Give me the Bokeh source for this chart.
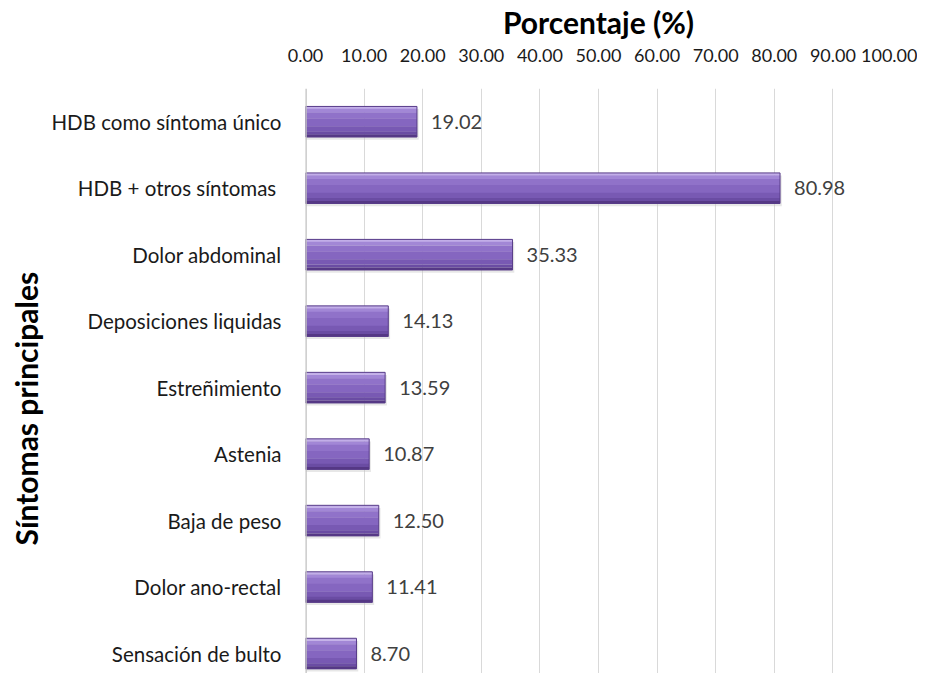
from bokeh.plotting import figure
from bokeh.models import Range1d, FixedTicker, NumeralTickFormatter, Span, ColumnDataSource, Title
from bokeh.core.properties import value
from bokeh.embed import file_html
from bokeh.resources import INLINE

categories = ["HDB como síntoma único", "HDB +  otros síntomas", "Dolor abdominal",
              "Deposiciones liquidas", "Estreñimiento", "Astenia", "Baja de peso",
              "Dolor ano-rectal", "Sensación de bulto"]
values = [19.02, 80.98, 35.33, 14.13, 13.59, 10.87, 12.50, 11.41, 8.70]
x_ticks = [0, 10, 20, 30, 40, 50, 60, 70, 80, 90, 100]
x_title = "Porcentaje (%)"
y_title = "Síntomas principales"

FONT = "Lato"
idx = list(range(len(categories)))

p = figure(width=917, height=673, output_backend="svg", toolbar_location=None,
           x_range=Range1d(0, 100), y_range=Range1d(8.3, -0.5),
           x_axis_location="above",
           min_border_left=300, min_border_right=26, min_border_top=88, min_border_bottom=0)
p.outline_line_color = None
p.background_fill_color = "white"

# axes
xa = p.xaxis[0]
xa.ticker = FixedTicker(ticks=x_ticks)
xa.formatter = NumeralTickFormatter(format="0.00")
xa.axis_line_color = None
xa.major_tick_line_color = None
xa.minor_tick_line_color = None
xa.major_label_text_font = FONT
xa.major_label_text_font_size = "18px"
xa.major_label_text_color = "#1a1a1a"
xa.major_label_standoff = 21
xa.axis_label = x_title
xa.axis_label_text_font = FONT
xa.axis_label_text_font_style = "bold"
xa.axis_label_text_font_size = "30px"
xa.axis_label_text_color = "#000000"
xa.axis_label_standoff = 6

ya = p.yaxis[0]
ya.ticker = FixedTicker(ticks=idx)
ya.major_label_overrides = {i: c for i, c in zip(idx, categories)}
ya.axis_line_color = None
ya.major_tick_line_color = None
ya.minor_tick_line_color = None
ya.major_label_text_font = FONT
ya.major_label_text_font_size = "20.5px"
ya.major_label_text_color = "#1a1a1a"
ya.major_label_standoff = 18

# y-axis title, shifted lower than the frame centre as in the reference
p.add_layout(Title(text=y_title, align="left", offset=128, standoff=10,
                   text_font=FONT, text_font_style="bold", text_font_size="30px",
                   text_color="#000000"), "left")

p.xgrid.ticker = FixedTicker(ticks=x_ticks)
p.xgrid.grid_line_color = "#d9d9d9"
p.xgrid.grid_line_width = 1
p.ygrid.grid_line_color = None

p.add_layout(Span(location=0, dimension="height", line_color="#c0c0c0", line_width=2.5))

h = 0.46
# soft shadow
p.hbar(y=[i + 0.04 for i in idx], left=0, right=[v + 0.3 for v in values], height=h,
       fill_color="#c4c4c4", fill_alpha=0.4, line_color=None)

strips = [(0.00, 0.08, "#c2aee8"), (0.08, 0.20, "#a287d6"), (0.20, 0.40, "#9072c9"),
          (0.40, 0.65, "#8566c0"), (0.65, 0.82, "#7859b3"), (0.82, 0.92, "#6a4ca3"),
          (0.92, 1.00, "#553885")]
for a, b, col in strips:
    p.hbar(y=[i - h / 2 + (a + b) / 2 * h for i in idx], left=0, right=values,
           height=(b - a) * h * 1.04, fill_color=col, line_color=None)
p.hbar(y=idx, left=0, right=values, height=h, fill_color=None, line_color="#573b88", line_width=1)

src = ColumnDataSource(dict(x=values, y=idx, t=[f"{v:.2f}" for v in values]))
p.text(x="x", y="y", text="t", source=src, x_offset=14, text_baseline="middle",
       text_align="left", text_font=value(FONT), text_font_size="20px", text_color="#404040")

open("out.html", "w").write(file_html(p, INLINE))
